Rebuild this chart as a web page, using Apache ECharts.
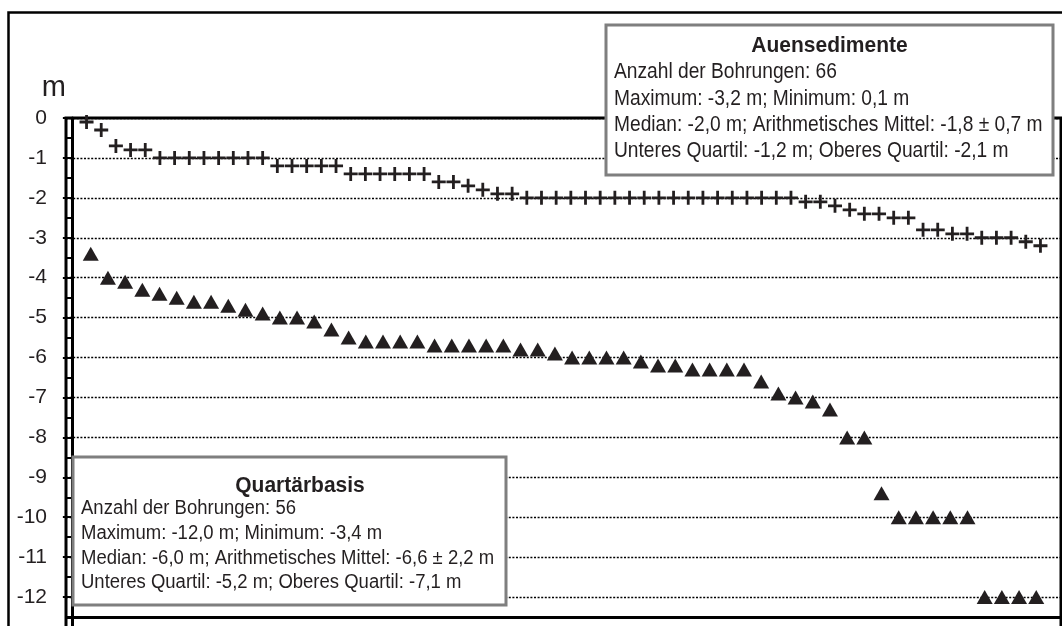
<!DOCTYPE html>
<html>
<head>
<meta charset="utf-8">
<script src="https://cdn.jsdelivr.net/npm/echarts@6/dist/echarts.min.js"></script>
<style>
  html, body { margin: 0; padding: 0; background: #fff; }
  #chart { width: 1062px; height: 626px; }
</style>
</head>
<body>
<div id="chart"></div>
<script>
// Depths (m) of the two horizons per borehole, sorted as plotted left to right.
const auensedimente = [
  -0.1, -0.3, -0.7, -0.8, -0.8,
  -1.0, -1.0, -1.0, -1.0, -1.0, -1.0, -1.0, -1.0,
  -1.2, -1.2, -1.2, -1.2, -1.2,
  -1.4, -1.4, -1.4, -1.4, -1.4, -1.4,
  -1.6, -1.6, -1.7, -1.8, -1.9, -1.9,
  -2.0, -2.0, -2.0, -2.0, -2.0, -2.0, -2.0, -2.0, -2.0, -2.0,
  -2.0, -2.0, -2.0, -2.0, -2.0, -2.0, -2.0, -2.0, -2.0,
  -2.1, -2.1, -2.2, -2.3, -2.4, -2.4, -2.5, -2.5,
  -2.8, -2.8, -2.9, -2.9, -3.0, -3.0, -3.0, -3.1, -3.2
];
const quartaerbasis = [
  -3.4, -4.0, -4.1, -4.3, -4.4, -4.5, -4.6, -4.6, -4.7, -4.8,
  -4.9, -5.0, -5.0, -5.1, -5.3, -5.5, -5.6, -5.6, -5.6, -5.6,
  -5.7, -5.7, -5.7, -5.7, -5.7, -5.8, -5.8, -5.9, -6.0, -6.0,
  -6.0, -6.0, -6.1, -6.2, -6.2, -6.3, -6.3, -6.3, -6.3, -6.6,
  -6.9, -7.0, -7.1, -7.3, -8.0, -8.0, -9.4, -10.0, -10.0, -10.0,
  -10.0, -10.0, -12.0, -12.0, -12.0, -12.0
];

const auenTitle = "Auensedimente";
const auenLines = [
  "Anzahl der Bohrungen: 66",
  "Maximum: -3,2 m; Minimum: 0,1 m",
  "Median: -2,0 m; Arithmetisches Mittel: -1,8 \u00b1 0,7 m",
  "Unteres Quartil: -1,2 m; Oberes Quartil: -2,1 m"
];
const quartTitle = "Quart\u00e4rbasis";
const quartLines = [
  "Anzahl der Bohrungen: 56",
  "Maximum: -12,0 m; Minimum: -3,4 m",
  "Median: -6,0 m; Arithmetisches Mittel: -6,6 \u00b1 2,2 m",
  "Unteres Quartil: -5,2 m; Oberes Quartil: -7,1 m"
];

const FONT = '"Liberation Sans", Arial, sans-serif';
const INK = "#231f20";
const PLUS = "path://M4,0H6V4H10V6H6V10H4V6H0V4H4Z";

// stats box: grey framed rect with bold centred title and left-aligned lines
// (the original glyphs are a little taller than Arial, hence scaleY)
function statBox(box, title, titleX, titleY, lines, textX, lineYs, size) {
  const els = [{
    type: "rect", z: 100, silent: true,
    shape: { x: box[0], y: box[1], width: box[2], height: box[3] },
    style: { fill: "#fff", stroke: "#7f7f7f", lineWidth: 3 }
  }, {
    type: "text", z: 101, silent: true, x: titleX, y: titleY, scaleY: 1.08,
    style: { text: title, fill: INK, font: "bold 21px " + FONT, align: "center", verticalAlign: "middle" }
  }];
  lines.forEach((t, i) => els.push({
    type: "text", z: 101, silent: true, x: textX, y: lineYs[i], scaleY: 1.12,
    style: { text: t, fill: INK, font: size + "px " + FONT, align: "left", verticalAlign: "middle" }
  }));
  return els;
}

const chart = echarts.init(document.getElementById("chart"));
chart.setOption({
  animation: false,
  backgroundColor: "#fff",
  grid: {
    left: 66, right: 1, top: 118, bottom: -11,
    outerBoundsMode: "none", containLabel: false,
    show: true, borderColor: "#000", borderWidth: 3, backgroundColor: "transparent"
  },
  xAxis: [
    { type: "value", min: -0.4, max: 67.4, show: false },
    { type: "value", min: -0.44, max: 57.44, show: false }
  ],
  yAxis: {
    type: "value", min: -13, max: 0, interval: 1,
    name: "m", nameLocation: "end", nameGap: 16,
    nameTextStyle: { fontSize: 29, fontFamily: FONT, color: INK, align: "right", padding: [0, 6, 0, 0] },
    axisLine: { show: true, lineStyle: { color: "#000", width: 3 } },
    axisTick: { show: true, length: 9, lineStyle: { color: "#000", width: 2 } },
    minorTick: { show: true, splitNumber: 2, length: 6, lineStyle: { color: "#000", width: 2 } },
    splitLine: { show: true, lineStyle: { color: "#000", width: 1.4, type: [2, 1.6] } },
    axisLabel: {
      fontSize: 21, fontFamily: FONT, color: INK, margin: 19,
      formatter: (v) => (v < -12 ? "" : String(v))
    }
  },
  series: [
    {
      type: "scatter", xAxisIndex: 0,
      data: auensedimente.map((v, i) => [i + 1, v]),
      symbol: PLUS, symbolSize: 14,
      itemStyle: { color: INK, opacity: 1 },
      markLine: {
        silent: true, symbol: ["none", "none"], label: { show: false },
        lineStyle: { color: "#000", width: 3, type: "solid" },
        data: [{ yAxis: -12.5 }]
      }
    },
    {
      type: "scatter", xAxisIndex: 1,
      data: quartaerbasis.map((v, i) => [i + 1, v]),
      symbol: "triangle", symbolSize: [16, 14],
      itemStyle: { color: INK, opacity: 1 }
    }
  ],
  graphic: [
    {
      type: "rect", z: 0, silent: true,
      shape: { x: 8.5, y: 12.5, width: 1100, height: 700 },
      style: { fill: null, stroke: "#000", lineWidth: 2.5 }
    },
    ...statBox([606, 25, 447, 150], auenTitle, 829.5, 46, auenLines, 614, [72.5, 99, 125, 151], 19.2),
    ...statBox([73, 457, 433, 148], quartTitle, 300, 486, quartLines, 81, [508, 533, 558, 582], 18.5)
  ]
});
</script>
</body>
</html>
